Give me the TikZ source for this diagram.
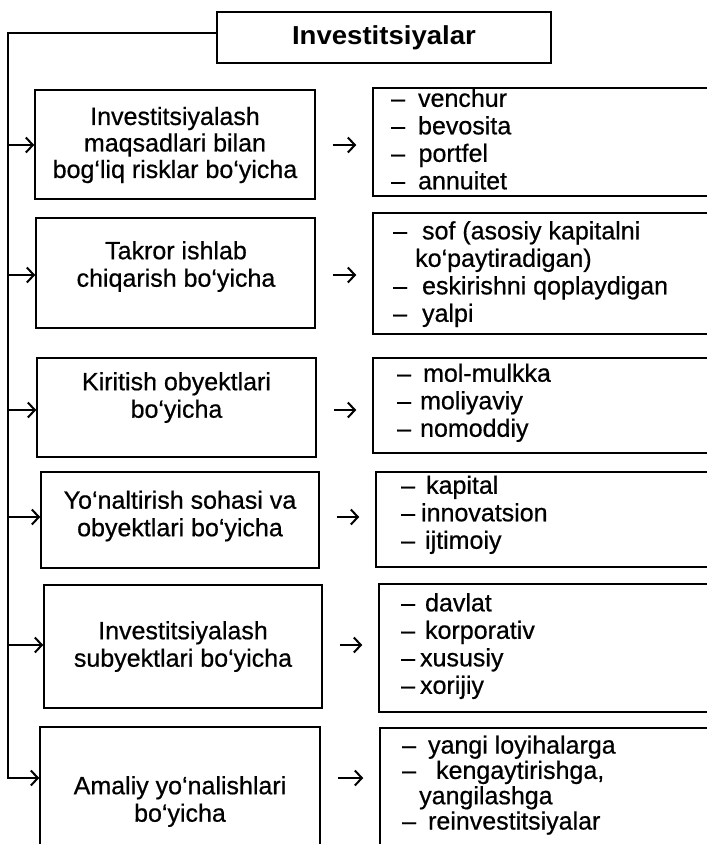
\documentclass[tikz,border=0pt]{standalone}
\usepackage{fontspec}
\setmainfont{Liberation Sans}[FakeBold=0.6]
\newfontfamily\titlefont{Liberation Sans Bold}[FakeStretch=1.06]
\usetikzlibrary{arrows.meta}
\newcommand\dd[1]{–\hspace{#1pt}}
\begin{document}
\begin{tikzpicture}[x=1pt,y=-1pt,
  boxshape/.style={draw,line width=1.5pt,inner sep=0pt,rectangle},
  ltext/.style={inner sep=0pt,align=center,font=\fontsize{25}{27.5}\selectfont},
  rtext/.style={anchor=west,inner sep=0pt,align=left,text depth=5pt,font=\fontsize{25}{27.5}\selectfont},
  spineline/.style={line width=1.6pt,line cap=rect},
  arr/.style={line width=2pt,-{Straight Barb[length=7pt,width=15pt]}},
  midarr/.style={arr,shorten <=17pt,shorten >=16pt}]
\useasboundingbox (0,0) rectangle (707,844);
\fill[white] (0,0) rectangle (707,844);
\clip (0,0) rectangle (707,844);

% title
\node[boxshape,minimum width=334pt,minimum height=51pt,font=\fontsize{26}{30}\titlefont] (T) at (384,37.5) {Investitsiyalar};

% left boxes
\node[boxshape,minimum width=280pt,minimum height=109pt] (L1) at (175,144.5) {};
\node[boxshape,minimum width=279pt,minimum height=110pt] (L2) at (175.5,273) {};
\node[boxshape,minimum width=279pt,minimum height=99pt] (L3) at (176.5,407.5) {};
\node[boxshape,minimum width=278pt,minimum height=96pt] (L4) at (180,520) {};
\node[boxshape,minimum width=278pt,minimum height=123pt] (L5) at (183,646.5) {};
\node[boxshape,minimum width=280pt,minimum height=133pt] (L6) at (180,793.5) {};

% left texts
\node[ltext,font=\fontsize{25}{26.5}\selectfont] (L1t) at (175,145) {Investitsiyalash\\maqsadlari bilan\\bog‘liq risklar bo‘yicha};
\node[ltext] (L2t) at (176,266.5) {Takror ishlab\\chiqarish bo‘yicha};
\node[ltext] (L3t) at (176.5,397.5) {Kiritish obyektlari\\bo‘yicha};
\node[ltext] (L4t) at (180,516) {Yo‘naltirish sohasi va\\obyektlari bo‘yicha};
\node[ltext] (L5t) at (183,646.5) {Investitsiyalash\\subyektlari bo‘yicha};
\node[ltext] (L6t) at (180,801.5) {Amaliy yo‘nalishlari\\bo‘yicha};

% right boxes
\node[boxshape,minimum width=347pt,minimum height=108pt] (R1) at (546.5,142) {};
\node[boxshape,minimum width=347pt,minimum height=121pt] (R2) at (546.5,273.5) {};
\node[boxshape,minimum width=347pt,minimum height=95pt] (R3) at (546.5,405.5) {};
\node[boxshape,minimum width=344pt,minimum height=95pt] (R4) at (548,519.5) {};
\node[boxshape,minimum width=341pt,minimum height=128pt] (R5) at (549.5,648) {};
\node[boxshape,minimum width=340pt,minimum height=132pt] (R6) at (550,794) {};

% right texts
\node[rtext] (R1t) at (391,141.5) {\dd{13}venchur\\\dd{13}bevosita\\\dd{13.5}portfel\\\dd{13}annuitet};
\node[rtext] (R2t) at (393,274) {\dd{15}sof (asosiy kapitalni\\\hspace*{22pt}ko‘paytiradigan)\\\dd{15}eskirishni qoplaydigan\\\dd{15}yalpi};
\node[rtext] (R3t) at (397,402.7) {\dd{12}mol-mulkka\\\dd{9}moliyaviy\\\dd{9}nomoddiy};
\node[rtext] (R4t) at (401,514.7) {\dd{11}kapital\\\dd{6}innovatsion\\\dd{10}ijtimoiy};
\node[rtext] (R5t) at (401,646) {\dd{10}davlat\\\dd{10}korporativ\\\dd{5}xususiy\\\dd{5}xorijiy};
\node[rtext,font=\fontsize{25}{25.3}\selectfont] (R6t) at (402,785) {\dd{12}yangi loyihalarga\\\dd{20}kengaytirishga,\\\hspace*{17pt}yangilashga\\\dd{12}reinvestitsiyalar};

% arrow levels and spine
\coordinate (S) at (8,33);
\coordinate (a1) at (0,145);
\coordinate (a2) at (0,275);
\coordinate (a3) at (0,410);
\coordinate (a4) at (0,517);
\coordinate (a5) at (0,645);
\coordinate (a6) at (0,778);

\draw[spineline] ([yshift=4.5pt]T.west) -- (S) -- (S |- a6);

\foreach \i in {1,...,6}{
  \draw[arr] (S |- a\i) -- (L\i.west |- a\i);
  \draw[midarr] (L\i.east |- a\i) -- (R\i.west |- a\i);
}
\end{tikzpicture}
\end{document}
